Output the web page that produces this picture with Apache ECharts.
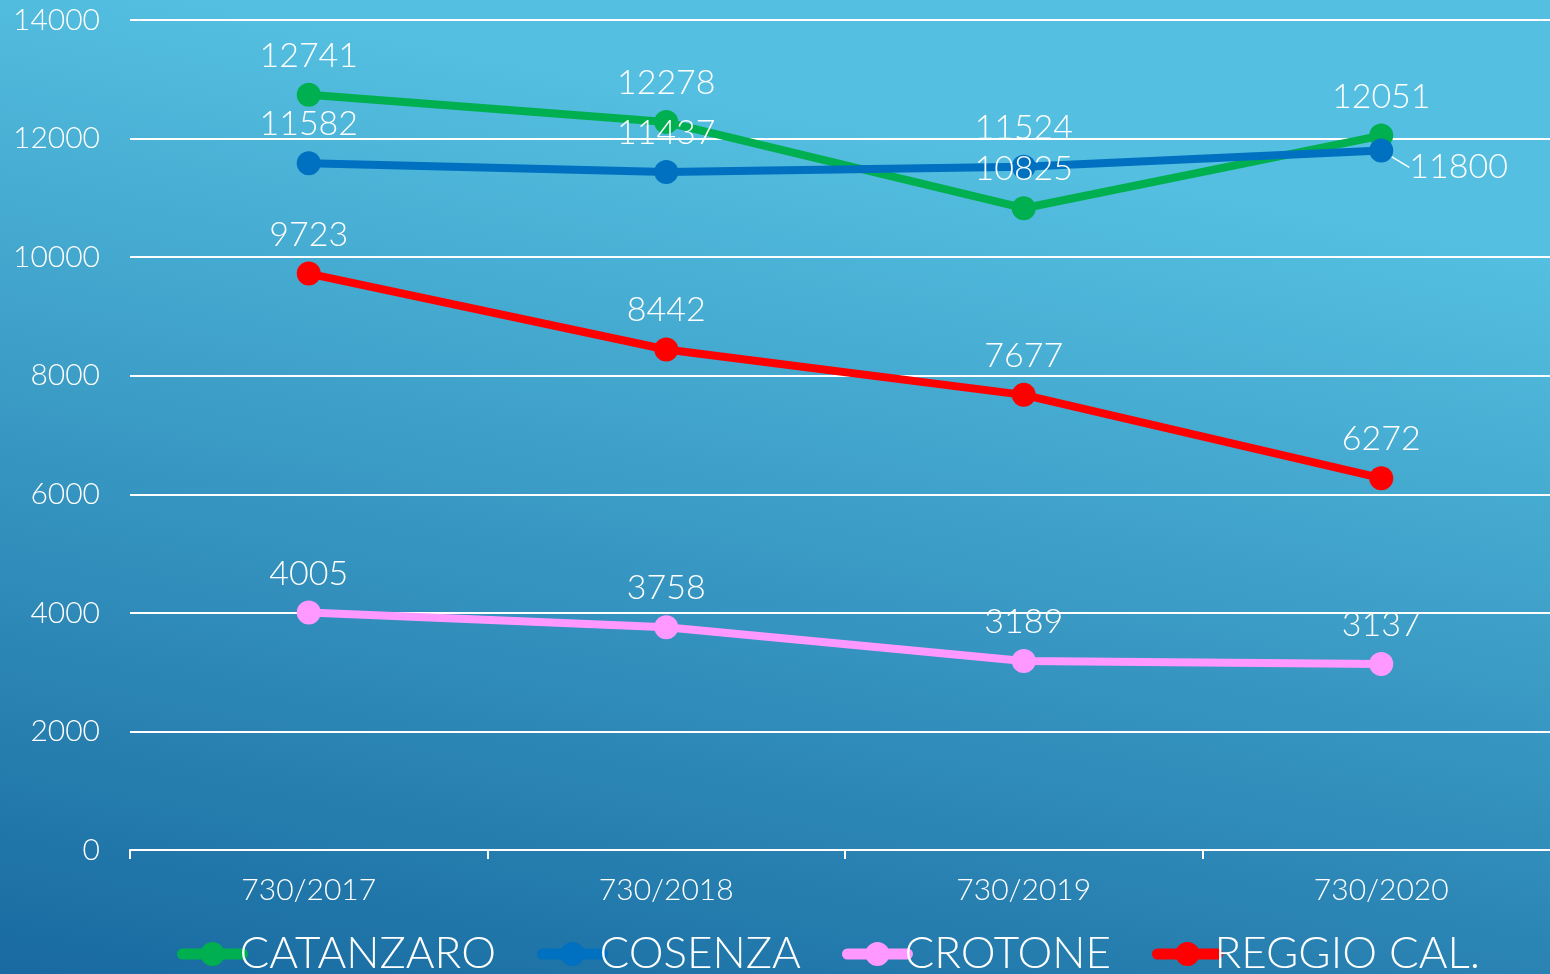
<!DOCTYPE html>
<html>
<head>
<meta charset="utf-8">
<script src="https://cdn.jsdelivr.net/npm/echarts@6/dist/echarts.min.js"></script>
<style>html,body{margin:0;padding:0;}#c{width:1550px;height:974px;}</style>
</head>
<body>
<div id="c"></div>
<script>
var categories = ['730/2017', '730/2018', '730/2019', '730/2020'];
var catanzaro = [12741, 12278, 10825, 12051];
var cosenza = [11582, 11437, 11524, 11800];
var crotone = [4005, 3758, 3189, 3137];
var reggio = [9723, 8442, 7677, 6272];
var seriesNames = ['CATANZARO', 'COSENZA', 'CROTONE', 'REGGIO CAL.'];
var seriesColors = ['#00B050', '#0070C0', '#FF99FF', '#FF0000'];
var yTicks = {min: 0, max: 14000, interval: 2000};

var FONT = 'Lato, "Noto Sans", sans-serif';
var chart = echarts.init(document.getElementById('c'));

function mk(name, data, color) {
  return {
    name: name,
    type: 'line',
    data: data,
    symbol: 'circle',
    symbolSize: 24,
    color: color,
    lineStyle: {width: 8, color: color},
    itemStyle: {color: color},
    z: 2,
    label: {
      show: true,
      position: 'top',
      distance: 10,
      color: '#fff',
      fontSize: 34,
      fontFamily: FONT,
      fontWeight: 300
    }
  };
}

var s0 = mk(seriesNames[0], catanzaro, seriesColors[0]);
var s1 = mk(seriesNames[1], cosenza, seriesColors[1]);
s1.data = cosenza.map(function (v, i) {
  if (i === 3) {
    return {value: v, label: {position: 'right', distance: 16}, labelLine: {show: true}};
  }
  return v;
});
s1.labelLayout = function (p) {
  if (p.dataIndex === 3) return {dy: 17};
  return {};
};
s1.labelLine = {show: false, lineStyle: {color: '#fff', width: 1.5}};
var s2 = mk(seriesNames[2], crotone, seriesColors[2]);
var s3 = mk(seriesNames[3], reggio, seriesColors[3]);

chart.setOption({
  backgroundColor: new echarts.graphic.LinearGradient(0, 1, 0.12, 0, [
    {offset: 0, color: '#186AA0'},
    {offset: 1, color: '#54BFE0'}
  ]),
  textStyle: {fontFamily: FONT},
  grid: {left: 130, width: 1430, top: 20, bottom: 124, containLabel: false, outerBoundsMode: 'none'},
  legend: {
    top: 927,
    left: 172,
    itemWidth: 60,
    itemHeight: 30,
    itemGap: 41,
    lineStyle: {width: 11, cap: 'round'},
    textStyle: {color: '#fff', fontSize: 44, fontFamily: FONT, fontWeight: 300, padding: [0, 0, 0, -8]},
    data: seriesNames
  },
  xAxis: {
    type: 'category',
    data: categories,
    boundaryGap: true,
    axisLine: {lineStyle: {color: '#fff', width: 2}},
    axisTick: {show: true, length: 9, lineStyle: {color: '#fff', width: 2}},
    axisLabel: {color: '#fff', fontSize: 30, fontFamily: FONT, fontWeight: 300, margin: 25}
  },
  yAxis: {
    type: 'value',
    min: yTicks.min,
    max: yTicks.max,
    interval: yTicks.interval,
    axisLine: {show: false},
    axisTick: {show: false},
    splitLine: {lineStyle: {color: '#fff', width: 2}},
    axisLabel: {color: '#fff', fontSize: 30, fontFamily: FONT, fontWeight: 300, margin: 30,
      formatter: function (v) { return String(v); }}
  },
  series: [s0, s1, s2, s3]
});
</script>
</body>
</html>
